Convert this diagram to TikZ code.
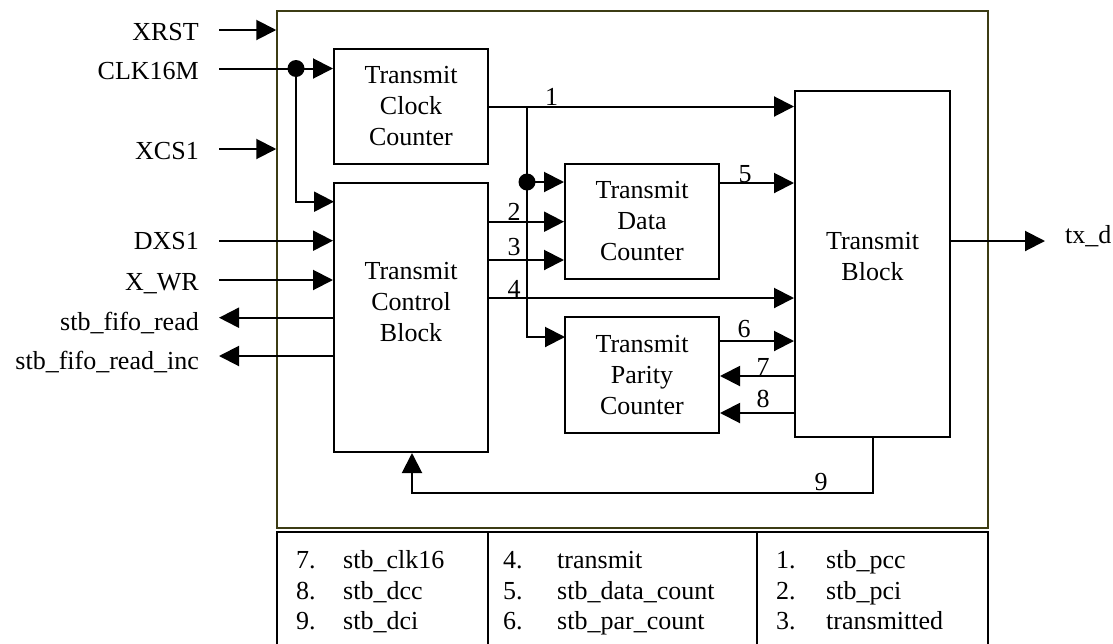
\documentclass[tikz,border=0pt]{standalone}
\usepackage{fontspec}
\setmainfont{Liberation Serif}
\usetikzlibrary{arrows.meta}
\definecolor{frameolive}{RGB}{60,60,20}
\begin{document}
\begin{tikzpicture}[x=1pt,y=-1pt,
  font=\fontsize{26}{31}\selectfont,
  box/.style={draw, line width=2pt, inner sep=0pt, align=center},
  wire/.style={line width=2pt},
  arr/.style={wire, -{Triangle[length=20pt,width=20pt]}},
  sig/.style={inner sep=0pt, anchor=base east},
  num/.style={inner sep=0pt, anchor=base},
  tab/.style={inner sep=0pt, anchor=base west},
  dot/.style={circle, fill, inner sep=0pt, minimum size=17pt}]

\useasboundingbox (0,0) rectangle (1113,643);

% outer frame
\node[draw=frameolive, line width=1.5pt, inner sep=0pt, minimum width=711pt, minimum height=517pt] (frame) at (632.5,269.5) {};

% blocks
\node[box, minimum width=154pt, minimum height=115pt] (clk) at (411,106.5) {Transmit\\Clock\\Counter};
\node[box, minimum width=154pt, minimum height=269pt] (ctrl) at (411,317.5) {};
\node[align=center, inner sep=0pt] (ctrltxt) at (411,302) {Transmit\\Control\\Block};
\node[box, minimum width=154pt, minimum height=115pt] (data) at (642,221.5) {Transmit\\Data\\Counter};
\node[box, minimum width=154pt, minimum height=116pt] (par) at (642,375) {Transmit\\Parity\\Counter};
\node[box, minimum width=155pt, minimum height=346pt] (tblk) at (872.5,264) {};
\node[align=center, inner sep=0pt] (tblktxt) at (872.5,257) {Transmit\\Block};

% external signal labels
\node[sig] (xrst) at (199,40) {XRST};
\node[sig] (clk16) at (199,79) {CLK16M};
\node[sig] (xcs) at (199,159) {XCS1};
\node[sig] (dxs) at (199,249) {DXS1};
\node[sig] (xwr) at (199,290) {X\_WR};
\node[sig] (fr) at (199,330) {stb\_fifo\_read};
\node[sig] (fri) at (199,369) {stb\_fifo\_read\_inc};
\node[inner sep=0pt, anchor=base west] (txd) at (1065,243) {tx\_d};

% signal wire ends
\coordinate (xrstS) at (219,30);
\coordinate (clkS) at (219,68.5);
\coordinate (xcsS) at (219,149);
\coordinate (dxsS) at (219,240.7);
\coordinate (xwrS) at (219,280);
\coordinate (frE) at (219,317.7);
\coordinate (friE) at (219,356);
\coordinate (tx) at (1045,241);

\draw[arr] (xrstS) -- (xrstS -| frame.west);
\draw[arr] (xcsS) -- (xcsS -| frame.west);
\draw[arr] (dxsS) -- (dxsS -| ctrl.west);
\draw[arr] (xwrS) -- (xwrS -| ctrl.west);
\draw[arr] (frE -| ctrl.west) -- (frE);
\draw[arr] (friE -| ctrl.west) -- (friE);

% clock distribution
\node[dot] (d1) at (296,68.5) {};
\coordinate (c2) at (334,201.7);
\draw[wire] (clkS) -- (d1.center);
\draw[arr] (d1.center) -- (d1.center -| clk.west);
\draw[arr] (d1.center) |- (c2);

% signal 1 and its branches
\coordinate (j1) at (527,106.5);
\coordinate (pin) at (565,337);
\node[dot] (d2) at (527,182) {};
\draw[arr] (clk.east) -- (clk.east -| tblk.west);
\draw[arr] (j1) |- (pin);
\draw[arr] (d2.center) -- (d2.center -| data.west);

% signals 2,3,4
\coordinate (o2) at (488,221.7);
\coordinate (o3) at (488,260);
\coordinate (o4) at (488,298);
\draw[arr] (o2) -- (o2 -| data.west);
\draw[arr] (o3) -- (o3 -| data.west);
\draw[arr] (o4) -- (o4 -| tblk.west);

% signals 5,6
\coordinate (o5) at (719,183);
\coordinate (o6) at (719,341);
\draw[arr] (o5) -- (o5 -| tblk.west);
\draw[arr] (o6) -- (o6 -| tblk.west);

% signals 7,8
\coordinate (i7) at (795,376);
\coordinate (i8) at (795,413);
\draw[arr] (i7) -- (i7 -| par.east);
\draw[arr] (i8) -- (i8 -| par.east);

% signal 9
\coordinate (k9) at (412,493);
\draw[arr] (tblk.south) |- (k9) -- (k9 |- ctrl.south);

% tx_d
\draw[arr] (tblk.east |- tx) -- (tx);

% connector numbers
\node[num] (n1) at (551.7,105) {1};
\node[num] (n2) at (514,220) {2};
\node[num] (n3) at (514,255) {3};
\node[num] (n4) at (514,297) {4};
\node[num] (n5) at (745,182) {5};
\node[num] (n6) at (744,337) {6};
\node[num] (n7) at (763,375) {7};
\node[num] (n8) at (763,407) {8};
\node[num] (n9) at (821,490) {9};

% legend table
\draw[line width=2pt] (277,650) -- (277,532) -- (988,532) -- (988,650);
\draw[line width=2pt] (488,532) -- (488,650);
\draw[line width=2pt] (757,532) -- (757,650);

\node[tab] (t7) at (296,568) {7.};
\node[tab] (t7s) at (343,568) {stb\_clk16};
\node[tab] (t8) at (296,599) {8.};
\node[tab] (t8s) at (343,599) {stb\_dcc};
\node[tab] (t9) at (296,629) {9.};
\node[tab] (t9s) at (343,629) {stb\_dci};

\node[tab] (t4) at (503,568) {4.};
\node[tab] (t4s) at (557,568) {transmit};
\node[tab] (t5) at (503,599) {5.};
\node[tab] (t5s) at (557,599) {stb\_data\_count};
\node[tab] (t6) at (503,629) {6.};
\node[tab] (t6s) at (557,629) {stb\_par\_count};

\node[tab] (t1) at (776,568) {1.};
\node[tab] (t1s) at (826,568) {stb\_pcc};
\node[tab] (t2) at (776,599) {2.};
\node[tab] (t2s) at (826,599) {stb\_pci};
\node[tab] (t3) at (776,629) {3.};
\node[tab] (t3s) at (826,629) {transmitted};
\end{tikzpicture}
\end{document}
